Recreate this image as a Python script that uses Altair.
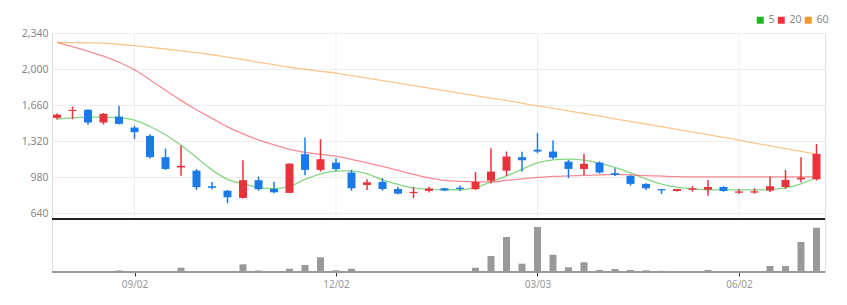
import altair as alt
import pandas as pd

# ---------------- data (weekly candles) ----------------
first_week = "2024-07-29"
n_weeks = 50
dates = [d.strftime("%Y-%m-%d") for d in pd.date_range(first_week, periods=n_weeks, freq="7D")]

opens = [1540, 1605, 1616, 1496, 1552, 1448, 1370, 1169, 1072, 1042,
         895, 853, 785, 952, 870, 832, 1197, 1049, 1118, 1024,
         907, 936, 869, 830, 851, 876, 882, 867, 948, 1042,
         1169, 1240, 1222, 1127, 1058, 1118, 1018, 992, 917, 868,
         850, 862, 863, 888, 834, 835, 854, 888, 960, 961]
highs = [1580, 1647, 1622, 1585, 1653, 1465, 1386, 1250, 1278, 1056,
         936, 860, 1141, 986, 938, 1110, 1354, 1339, 1160, 1049,
         961, 971, 891, 886, 891, 880, 901, 1030, 1254, 1222,
         1219, 1396, 1326, 1143, 1200, 1130, 1065, 1002, 923, 870,
         872, 898, 954, 895, 867, 876, 986, 1049, 1169, 1294]
lows = [1525, 1528, 1474, 1477, 1478, 1339, 1156, 1049, 995, 860,
        867, 735, 780, 853, 829, 830, 999, 1033, 1042, 853,
        860, 853, 819, 782, 835, 848, 851, 860, 920, 992,
        1033, 1207, 1150, 971, 1002, 1015, 992, 901, 860, 822,
        846, 844, 806, 843, 825, 825, 841, 870, 933, 948]
closes = [1570, 1615, 1496, 1578, 1483, 1405, 1169, 1058, 1088, 886,
          880, 791, 952, 867, 838, 1108, 1049, 1150, 1056, 876,
          932, 869, 825, 842, 873, 856, 870, 936, 1033, 1175,
          1140, 1222, 1165, 1058, 1106, 1024, 1002, 917, 876, 856,
          868, 876, 888, 850, 846, 847, 895, 955, 976, 1200]
volumes = [10, 8, 8, 8, 15, 8, 8, 8, 43, 8,
           8, 3, 77, 15, 8, 33, 70, 147, 17, 33,
           8, 8, 8, 8, 8, 8, 3, 43, 160, 350,
           83, 450, 173, 47, 97, 20, 30, 20, 17, 12,
           3, 8, 20, 8, 3, 8, 60, 60, 300, 443]

# moving averages
ma5 = [1528, 1540, 1547, 1547, 1540, 1518, 1458, 1380, 1281, 1167,
       1049, 959, 917, 884, 872, 893, 959, 1011, 1038, 1040,
       1011, 955, 912, 879, 867, 862, 862, 884, 936, 992,
       1054, 1115, 1143, 1150, 1141, 1110, 1073, 1021, 964, 914,
       886, 870, 862, 860, 860, 860, 865, 879, 917, 980]
ma20 = [2251, 2211, 2168, 2121, 2064, 1993, 1899, 1800, 1705, 1616,
        1535, 1455, 1389, 1332, 1285, 1243, 1214, 1195, 1178, 1148,
        1115, 1082, 1044, 1007, 973, 950, 940, 936, 936, 950,
        964, 978, 988, 992, 997, 1002, 1006, 1002, 995, 990,
        985, 983, 983, 983, 983, 983, 983, 983, 983, 983]
ma60 = [2251, 2249, 2247, 2244, 2234, 2220, 2205, 2189, 2172, 2155,
        2135, 2112, 2090, 2064, 2041, 2017, 1998, 1979, 1962, 1939,
        1915, 1891, 1868, 1844, 1821, 1797, 1773, 1750, 1726, 1703,
        1678, 1653, 1630, 1606, 1581, 1556, 1531, 1506, 1482, 1456,
        1432, 1406, 1381, 1355, 1329, 1302, 1276, 1249, 1224, 1198]
ma_names = ["5", "20", "60"]

price_ticks = [640, 980, 1320, 1660, 2000, 2340]
tick_dates = ["2024-09-02", "2024-12-02", "2025-03-03", "2025-06-02"]

# ---------------- tables ----------------
candles = pd.DataFrame({"date": dates, "open": opens, "high": highs,
                        "low": lows, "close": closes, "volume": volumes})
ma_df = pd.concat([
    pd.DataFrame({"date": dates, "ma": name, "value": vals})
    for name, vals in zip(ma_names, [ma5, ma20, ma60])
], ignore_index=True)
grid_df = pd.DataFrame({"date": tick_dates})

# ---------------- layout / style ----------------
W, H = 773, 239
PRICE_H = 186
RED, BLUE = "#e8323c", "#1a7be8"
ma_colors = ["#22b522", "#f0303c", "#f39a2d"]
FONT = "Noto Sans"


def ms(d):
    return int(pd.Timestamp(d, tz="UTC").value // 10**6)


day_ms = 86400000
x_domain = [ms(dates[0]) - int(2.26 * day_ms), ms(dates[-1]) + int(3.84 * day_ms)]
xscale = alt.Scale(type="utc", domain=x_domain, nice=False, padding=0)
xaxis = alt.Axis(values=[ms(d) for d in tick_dates],
                 labelExpr="utcFormat(datum.value, '%m/%d')",
                 title=None, grid=False, domain=False,
                 tickColor="#333", tickSize=4, tickWidth=1,
                 labelColor="#999", labelFontSize=10, labelFont=FONT,
                 labelPadding=3)


def X():
    return alt.X("date:T", scale=xscale, axis=xaxis)


yscale = alt.Scale(domain=[586, 2340], range=[PRICE_H, 0], nice=False, zero=False)
yaxis = alt.Axis(values=price_ticks, labelExpr="format(datum.value, ',')",
                 title=None, domain=False,
                 ticks=False, grid=True, gridColor="#eeeeee", gridWidth=1,
                 labelColor="#888", labelFontSize=10.5, labelFont=FONT,
                 labelPadding=4)


def Y(field):
    return alt.Y(f"{field}:Q", scale=yscale, axis=yaxis)


updown = alt.condition("datum.close >= datum.open", alt.value(RED), alt.value(BLUE))

vgrid = alt.Chart(grid_df).mark_rule(color="#eeeeee", strokeWidth=1).encode(
    x=X(), y=alt.value(0), y2=alt.value(PRICE_H))

ma_lines = alt.Chart(ma_df).mark_line(strokeWidth=1.3, interpolate="monotone", opacity=0.55).encode(
    x=X(), y=Y("value"),
    stroke=alt.Stroke("ma:N", scale=alt.Scale(domain=ma_names, range=ma_colors),
                      legend=alt.Legend(title=None, orient="none", legendX=703, legendY=-18,
                                        direction="horizontal", symbolType="square",
                                        gridAlign="none",
                                        symbolSize=9, symbolStrokeWidth=4, symbolOpacity=1,
                                        labelFontSize=10.5, labelColor="#888", labelFont=FONT,
                                        labelOffset=3, columnPadding=-4, padding=0)))

wicks = alt.Chart(candles).mark_rule(strokeWidth=1.5).encode(
    x=X(), y=Y("low"), y2="high", color=updown)

bodies = alt.Chart(candles).mark_bar(size=8).encode(
    x=X(), y=Y("open"), y2="close", color=updown)

separator = alt.Chart(candles).mark_rule(color="#222", strokeWidth=2).encode(
    x=alt.value(0), x2=alt.value(W), y=alt.value(PRICE_H))

price = alt.layer(vgrid, ma_lines, wicks, bodies, separator)

vscale = alt.Scale(domain=[0, 500], range=[H, H - 50], nice=False)
vol_bars = alt.Chart(candles).mark_bar(size=7, color="#999999").encode(
    x=X(), y=alt.Y("volume:Q", scale=vscale, axis=None))
vol_base = alt.Chart(pd.DataFrame({"v": [0]})).mark_rule(color="#999999", strokeWidth=2).encode(
    y=alt.Y("v:Q", scale=vscale, axis=None), x=alt.value(0), x2=alt.value(W))
volume = alt.layer(vol_base, vol_bars)

chart = alt.layer(price, volume).resolve_scale(y="independent").properties(
    width=W, height=H,
    autosize=alt.AutoSizeParams(type="none"),
    padding={"left": 52, "top": 33, "right": 22, "bottom": 33},
    background="white",
).configure_view(stroke=None).configure(font=FONT)

chart.save("out.html", embed_options={"renderer": "svg", "actions": False})
